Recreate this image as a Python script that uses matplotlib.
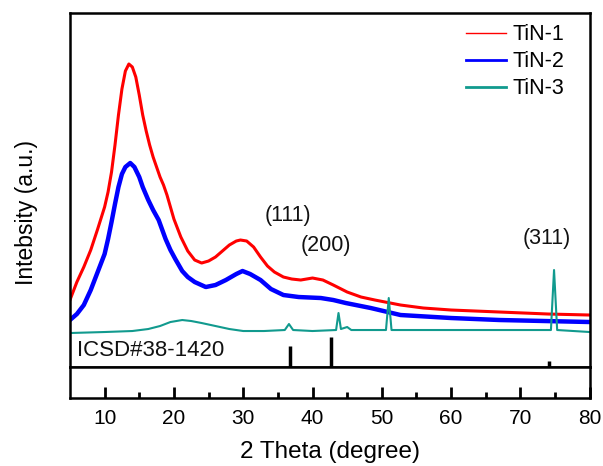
import numpy as np
import matplotlib.pyplot as plt

plt.rcParams['font.family'] = ['Liberation Sans', 'DejaVu Sans']
plt.rcParams['font.size'] = 15.5

# 2 theta (degree) and intensity (a.u.)
tt1 = [5, 6, 7, 8, 9, 10, 10.5, 11, 11.5, 12, 12.5, 13, 13.5, 14, 14.5, 15, 15.5, 16,
       16.5, 17, 17.5, 18, 18.5, 19, 20, 21, 22, 23, 24, 25, 26, 27, 28, 29, 29.6, 30.5,
       31.5, 32.5, 33.5, 34.5, 35.8, 37, 38.3, 40, 41.5, 43, 45, 47, 49, 52.7, 56, 60,
       67, 74, 80]
tin1 = [67, 85, 100, 117, 138, 160, 175, 195, 222, 252, 278, 296, 303, 300, 290, 272,
        252, 236, 222, 210, 200, 190, 182, 172, 148, 130, 116, 107, 104, 106, 110, 116,
        122, 126, 127, 126, 120, 110, 101, 95, 90, 88, 87, 89, 87, 82, 75, 70, 67, 62,
        59, 57, 55, 53, 52]

tt2 = [5, 6, 7, 8, 9, 10, 10.5, 11, 11.5, 12, 12.5, 13, 13.7, 14.3, 15, 15.5, 16.3, 17,
       17.8, 18.8, 19.5, 20.2, 21.2, 22, 23, 24.6, 26, 27.5, 29, 29.9, 31, 32.5, 34,
       35.8, 38, 41.2, 43, 44.8, 48.4, 52.7, 60, 67, 80]
tin2 = [47, 53, 62, 77, 95, 113, 128, 145, 163, 180, 193, 200, 204, 200, 190, 180, 167,
        157, 147, 128, 117, 108, 96, 90, 85, 80, 82, 87, 93, 96, 93, 87, 78,
        72, 70, 69, 67, 64, 59, 52, 49, 47, 45]

tt3 = [5, 10, 14, 16.3, 18, 19.5, 21.2, 22.5, 24, 26, 28, 30, 33, 36.0, 36.6, 37.2, 40,
       43.4, 43.75, 44.1, 45.0, 45.6, 50.6, 51.0, 51.4, 74.4, 74.85, 75.3, 80]
tin3 = [34, 35, 36, 38, 41, 45, 47, 46, 44, 41, 38, 36, 36, 37, 43, 37, 36,
        37, 54, 38, 40, 37, 37, 69, 37, 37, 97, 37, 35]

# ICSD#38-1420 reference lines
ref_pos = [36.7, 42.6, 74.1]
ref_int = [21, 30, 6]

peaks = ['(111)', '(200)', '(311)']
peak_x = [36.4, 41.9, 73.8]
peak_y = [152, 122, 129]

fig = plt.figure(figsize=(6.03, 4.66), dpi=100)
ax = fig.add_axes([0.116, 0.2124, 0.862, 0.7597])
ax2 = fig.add_axes([0.116, 0.146, 0.862, 0.0664])

ax.plot(tt1, tin1, color='#ff0000', lw=2.2, label='TiN-1')
ax.plot(tt2, tin2, color='#0000ff', lw=3.2, label='TiN-2')
ax.plot(tt3, tin3, color='#119a8e', lw=1.5, label='TiN-3')
ax.vlines(ref_pos, 0, ref_int, color='black', lw=2.5)
ax.text(6.0, 17, 'ICSD#38-1420', va='center', ha='left', color='#111111', fontsize=16)
for s, x, y in zip(peaks, peak_x, peak_y):
    ax.text(x, y, s, ha='center', va='center', color='#111111')

ax.set_xlim(5, 80)
ax.set_ylim(0, 354)
ax.set_xticks([])
ax.set_yticks([])
for sp in ax.spines.values():
    sp.set_linewidth(1.8)

leg = ax.legend(loc='upper right', bbox_to_anchor=(0.952, 0.968), frameon=False,
                borderpad=0, borderaxespad=0, handlelength=1.9, handletextpad=0.3,
                labelspacing=0.28)
for line, w in zip(leg.get_lines(), [1.0, 2.0, 2.0]):
    line.set_linewidth(w)

ax2.set_xlim(5, 80)
ax2.set_ylim(0, 1)
ax2.set_yticks([])
ax2.set_xticks(np.arange(10, 81, 10))
ax2.set_xticks(np.arange(15, 80, 10), minor=True)
ax2.tick_params(axis='x', which='major', direction='in', length=8, width=2, pad=8,
                labelsize=15)
ax2.tick_params(axis='x', which='minor', direction='in', length=4, width=2)
for sp in ax2.spines.values():
    sp.set_linewidth(1.8)
ax2.set_xlabel('2 Theta (degree)', labelpad=9, fontsize=17.5)

fig.text(0.044, 0.543, 'Intebsity (a.u.)', rotation=90, ha='center', va='center',
         fontsize=16.5)

plt.savefig('out.png', dpi=100)
plt.close()
